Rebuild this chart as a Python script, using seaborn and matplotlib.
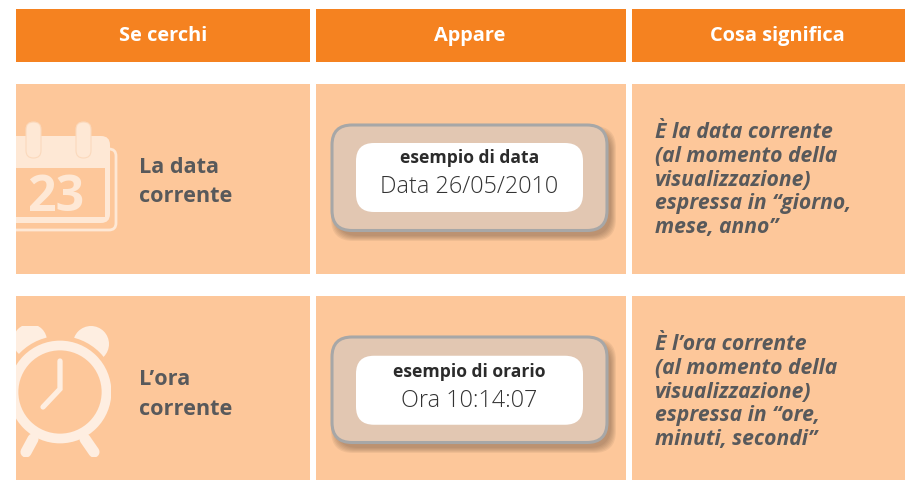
import matplotlib
matplotlib.use("Agg")
import matplotlib.pyplot as plt
import seaborn as sns
from matplotlib.patches import Rectangle, FancyBboxPatch, Circle

# Text of the table
headers = ["Se cerchi", "Appare", "Cosa significa"]
search_labels = [["La data", "corrente"], ["L’ora", "corrente"]]
example_titles = ["esempio di data", "esempio di orario"]
example_values = ["Data 26/05/2010", "Ora 10:14:07"]
meanings = [
    ["È la data corrente", "(al momento della", "visualizzazione)", "espressa in “giorno,", "mese, anno”"],
    ["È l’ora corrente", "(al momento della", "visualizzazione)", "espressa in “ore,", "minuti, secondi”"],
]
calendar_day = "23"

ORANGE = "#F58220"
PEACH = "#FDC79A"
CAL_ICON = "#FEE8D5"
CLOCK_ICON = "#FEEEE1"
GREY = "#58595B"

sns.set_theme(style="white")
plt.rcParams["font.family"] = ["Open Sans", "DejaVu Sans"]

fig = plt.figure(figsize=(9.05, 4.81), dpi=100)
ax = fig.add_axes([0, 0, 1, 1])
ax.set_xlim(0, 905)
ax.set_ylim(481, 0)
ax.axis("off")
sns.despine(ax=ax, left=True, bottom=True)

columns = [(16, 310), (316, 626), (632, 905)]
header_centers = [163, 470, 777]
rows = [(84, 274), (296, 481)]


def cell(x0, x1, y0, y1, color):
    ax.add_patch(Rectangle((x0, y0 + 0.6), x1 - x0, y1 - y0, fc=color, ec="none", zorder=1))


# Header row
for (x0, x1), xc, name in zip(columns, header_centers, headers):
    cell(x0, x1, 9, 62, ORANGE)
    ax.text(xc, 41, name, color="white", fontsize=14.4, fontweight="bold",
            ha="center", va="baseline", zorder=3)

for y0, y1 in rows:
    for x0, x1 in columns:
        cell(x0, x1, y0, y1, PEACH)

# Calendar icon, cut by the left edge of the cell
clip = Rectangle((16, 84), 294, 190, transform=ax.transData)
parts = [
    FancyBboxPatch((0, 150), 116, 81, boxstyle="round,pad=0,rounding_size=7", fc="none", ec=CAL_ICON, lw=2),
    FancyBboxPatch((0, 137), 110, 87, boxstyle="round,pad=0,rounding_size=9", fc=PEACH, ec="none"),
    FancyBboxPatch((0, 137), 110, 87, boxstyle="round,pad=0,rounding_size=9", fc=CAL_ICON, ec="none"),
    Rectangle((0, 169), 105, 49, fc=PEACH, ec="none"),
    FancyBboxPatch((26, 123), 15, 36, boxstyle="round,pad=0,rounding_size=7.4", fc=CAL_ICON, ec="#FBD9BC", lw=0.8),
    FancyBboxPatch((76, 123), 15, 36, boxstyle="round,pad=0,rounding_size=7.4", fc=CAL_ICON, ec="#FBD9BC", lw=0.8),
]
for i, p in enumerate(parts):
    p.set_zorder(2 + i * 0.01)
    ax.add_patch(p)
    p.set_clip_path(clip)
ax.text(56, 211, calendar_day, color=CAL_ICON, fontsize=36, fontweight="bold", ha="center", va="baseline", zorder=3)

# Alarm clock icon
clip2 = Rectangle((16, 327), 95, 131, transform=ax.transData)
clock = [
    Circle((30, 342), 17, fc=CLOCK_ICON, ec="none"),
    Circle((91, 345), 18, fc=CLOCK_ICON, ec="none"),
    Circle((60, 393), 56, fc=PEACH, ec="none"),
    Circle((60, 393), 46.5, fc="none", ec=CLOCK_ICON, lw=7),
]
for i, p in enumerate(clock):
    p.set_zorder(2 + i * 0.01)
    ax.add_patch(p)
    p.set_clip_path(clip2)
for xs, ys, w in [([60, 60, 43], [362, 390, 408], 3.8), ([33, 26], [440, 453], 8), ([85, 94], [440, 453], 8)]:
    line, = ax.plot(xs, ys, color=CLOCK_ICON, lw=w, solid_capstyle="round", solid_joinstyle="miter", zorder=2.1)
    line.set_clip_path(clip2)

# Left column labels
for lines, baselines in zip(search_labels, [(173, 202), (385, 415)]):
    for s, y in zip(lines, baselines):
        ax.text(139, y, s, color=GREY, fontsize=15.6, fontweight="bold", va="baseline", zorder=3)

# Example boxes, second one sits a little lower inside its frame
for y0, dy, title, value in zip([126, 338], [0, 1.5], example_titles, example_values):
    for grow in range(5, -1, -1):
        ax.add_patch(FancyBboxPatch((332 + 4 - grow, y0 + 6 - grow), 275 + 2 * grow, 105 + 2 * grow,
                                    boxstyle="round,pad=0,rounding_size=22", fc="#6B5340", alpha=0.09,
                                    ec="none", zorder=2))
    ax.add_patch(FancyBboxPatch((332, y0), 275, 105.5, boxstyle="round,pad=0,rounding_size=20",
                                fc="#E2C7B2", ec="#A7A7A7", lw=2.2, zorder=2.5))
    ax.add_patch(FancyBboxPatch((356, y0 + 18 + dy / 2), 227, 69, boxstyle="round,pad=0,rounding_size=18",
                                fc="white", ec="none", zorder=2.6))
    ax.text(469.5, y0 + 37.5 + dy, title, color="#2B2B2B", fontsize=12.6, fontweight="bold",
            ha="center", va="baseline", zorder=3)
    ax.text(469.5, y0 + 67.5 + dy, value, color="#333333", fontsize=16.8, fontweight="light",
            ha="center", va="baseline", zorder=3)

# Right column
for lines, y0 in zip(meanings, [138, 350]):
    for i, s in enumerate(lines):
        ax.text(655, y0 + i * 23.8, s, color=GREY, fontsize=15.2, fontweight="bold", style="italic",
                va="baseline", zorder=3)

fig.savefig("out.png", dpi=100, facecolor="white")
